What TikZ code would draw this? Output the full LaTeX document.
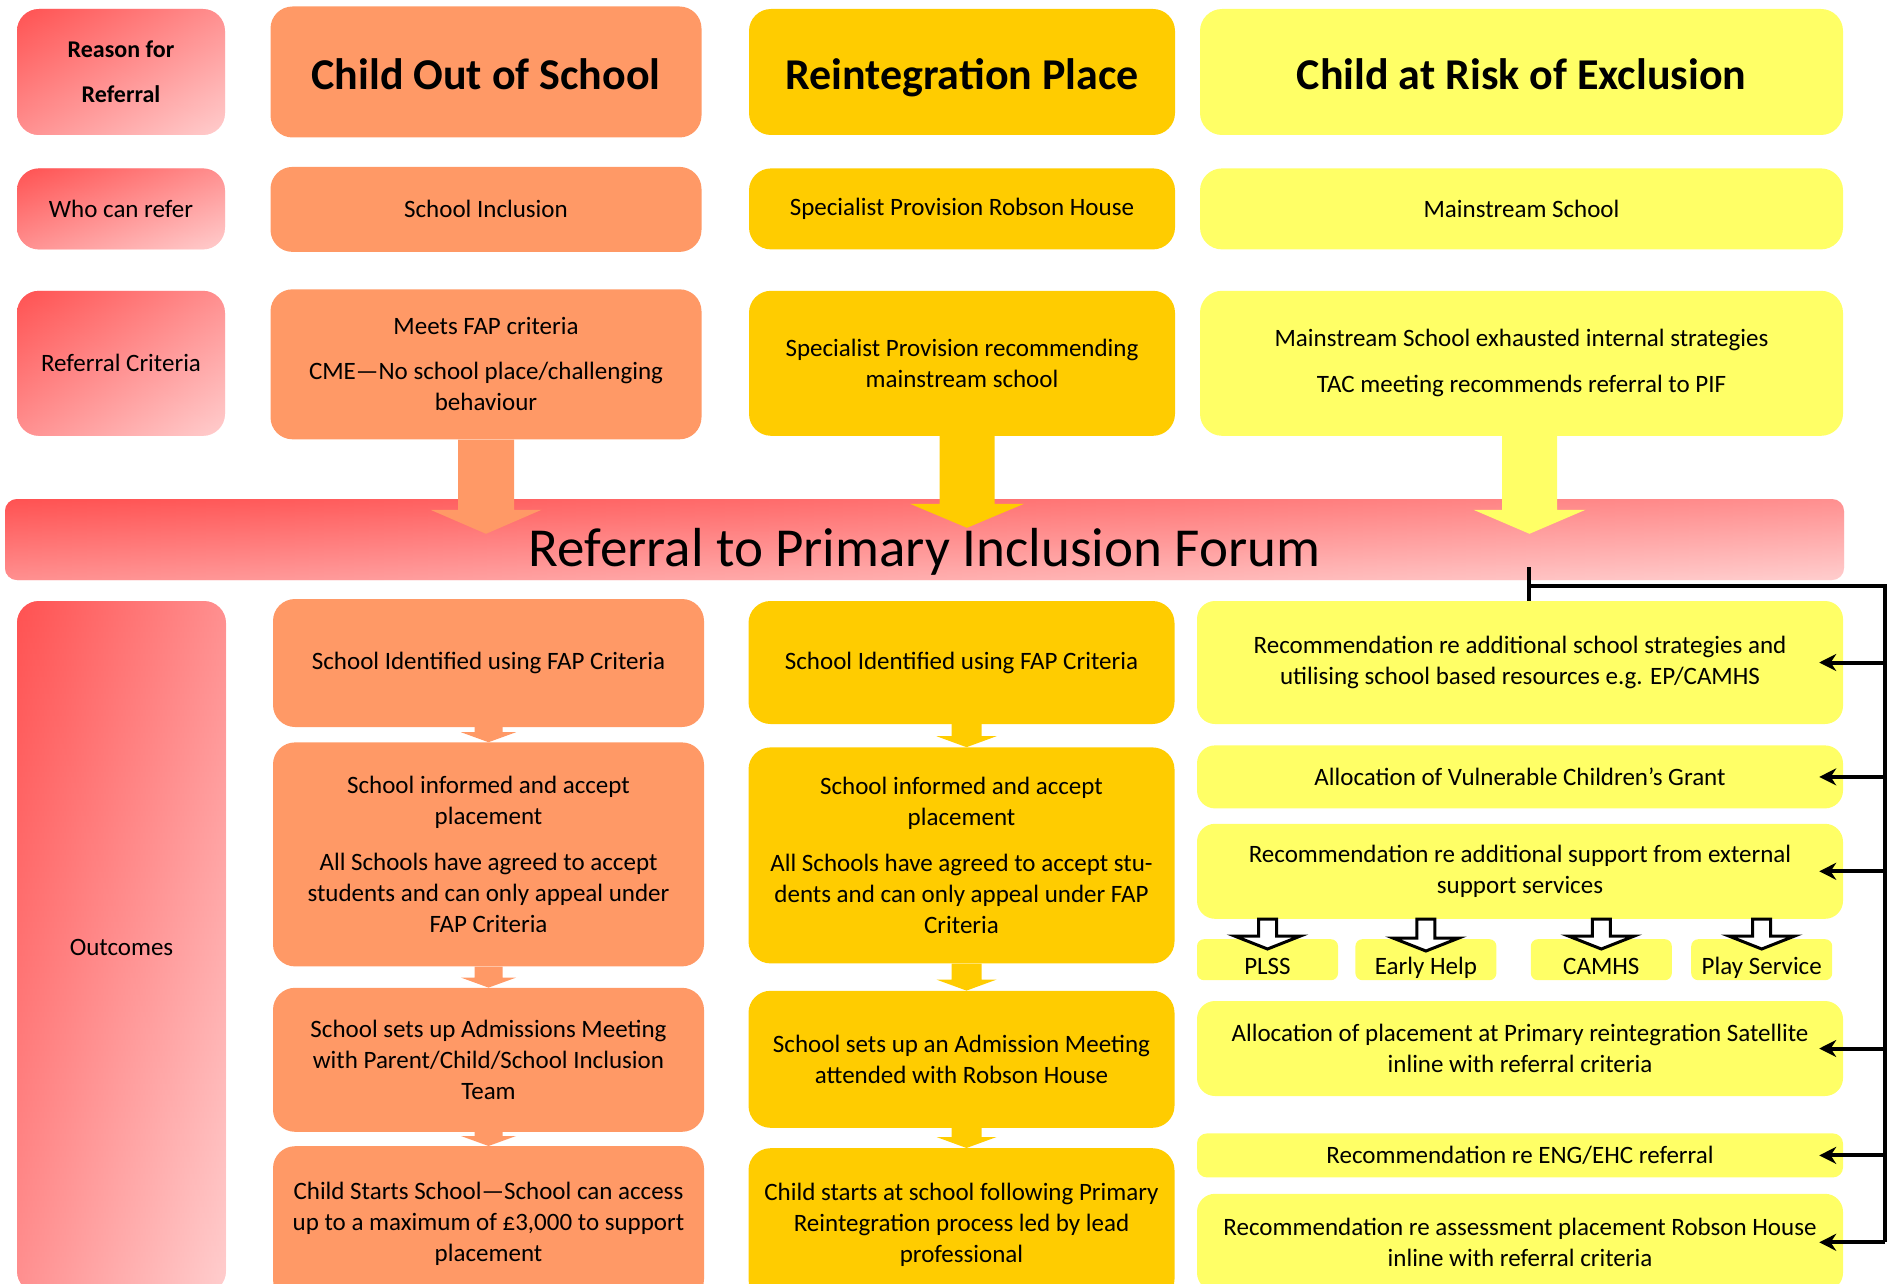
\documentclass[tikz,border=0pt]{standalone}
\usepackage{fontspec}
\setmainfont{Carlito}
\usepackage{xcolor}
\usepackage{tikz}
\definecolor{cosorange}{RGB}{255,153,102}
\definecolor{ripgold}{RGB}{255,204,0}
\definecolor{riskyellow}{RGB}{255,255,102}
\definecolor{pinkdark}{RGB}{255,82,82}
\definecolor{pinklight}{RGB}{255,206,206}
\usetikzlibrary{arrows.meta, positioning, calc}

\newcommand{\bodysize}{\fontsize{25}{31}\selectfont}
\newcommand{\headsize}{\fontsize{44}{52}\selectfont\bfseries}
\newcommand{\reasonsize}{\fontsize{24}{45}\selectfont\bfseries}
\newcommand{\bannersize}{\fontsize{55}{64}\selectfont}

% block arrow: #1 style, #2 top of stem, #3 target, #4 stem half width,
% #5 head half width, #6 head length, #7 how far the tip runs past #3
\newcommand{\fatarrow}[7]{%
  \path[#1] let \p1=(#2), \p2=(#3) in
    (\x1-#4pt,\y1) -- (\x1+#4pt,\y1) -- (\x1+#4pt,\y2-#7pt+#6pt)
    -- (\x1+#5pt,\y2-#7pt+#6pt) -- (\x1,\y2-#7pt)
    -- (\x1-#5pt,\y2-#7pt+#6pt) -- (\x1-#4pt,\y2-#7pt+#6pt) -- cycle;}

\begin{document}
\begin{tikzpicture}[
    x=1pt, y=-1pt,
    node distance=20pt,
    box/.style={rectangle, rounded corners=22pt, inner sep=0pt, align=center, font=\bodysize},
    pinkfill/.style={path picture={
        \shade[left color=pinkdark, right color=pinklight]
            (path picture bounding box.south west) rectangle (path picture bounding box.north east);
        \shade[top color=pinkdark, bottom color=pinklight, opacity=0.5]
            (path picture bounding box.south west) rectangle (path picture bounding box.north east);}},
    sidebox/.style={box, minimum width=208pt, pinkfill},
    headtext/.style={font=\headsize, text height=36pt, text depth=0pt},
    orangebox/.style={box, fill=cosorange, minimum width=431pt},
    goldbox/.style={box, fill=ripgold, minimum width=426pt},
    yellowbox/.style={box, fill=riskyellow, minimum width=643pt},
    extbox/.style={box, fill=riskyellow, minimum width=646pt, rounded corners=18pt},
    svcbox/.style={box, fill=riskyellow, minimum width=141pt, minimum height=41pt, rounded corners=7pt,
                   text height=29pt, text depth=0pt},
    hollow/.style={draw=black, fill=white, line width=3pt, line join=miter},
    link/.style={line width=4pt, black},
    feed/.style={link, -{Stealth[length=17pt, width=17pt]}}
]
    \useasboundingbox (0,0) rectangle (1889,1284);

    % row labels
    \node[sidebox, minimum height=126pt, font=\reasonsize] (reason) at (121,72) {Reason for\\Referral};
    \node[sidebox, minimum height=81pt, below=33pt of reason] (whorefer) {Who can refer};
    \node[sidebox, minimum height=145pt, below=41pt of whorefer] (refcrit) {Referral Criteria};

    % child out of school
    \node[orangebox, minimum height=131pt, headtext] (cos) at (486,72) {Child Out of School};
    \node[orangebox, minimum height=85pt, below=29pt of cos] (cosrefer) {School Inclusion};
    \node[orangebox, minimum height=150pt, below=37pt of cosrefer] (coscrit) {Meets FAP criteria\\[14pt]CME—No school place/challenging\\behaviour};

    % reintegration place
    \node[goldbox, minimum height=126pt, headtext] (rip) at (962,72) {Reintegration Place};
    \node[goldbox, minimum height=81pt, below=33pt of rip] (riprefer) {Specialist Provision Robson House};
    \node[goldbox, minimum height=145pt, below=41pt of riprefer] (ripcrit) {Specialist Provision recommending\\mainstream school};

    % child at risk of exclusion
    \node[yellowbox, minimum height=126pt, headtext] (risk) at (1521.5,72) {Child at Risk of Exclusion};
    \node[yellowbox, minimum height=81pt, below=33pt of risk] (riskrefer) {Mainstream School};
    \node[yellowbox, minimum height=145pt, below=41pt of riskrefer] (riskcrit) {Mainstream School exhausted internal strategies\\[15pt]TAC meeting recommends referral to PIF};

    % forum banner
    \node[sidebox, minimum width=1839pt, minimum height=81pt, rounded corners=12pt, font=\bannersize,
          text height=53pt, text depth=0pt] (pif) at (924.5,539.5) {Referral to Primary Inclusion Forum};

    \fatarrow{fill=cosorange}{coscrit.south}{pif.north}{28}{55.5}{24}{35}
    \fatarrow{fill=ripgold}{[xshift=5pt]ripcrit.south}{pif.north}{27.5}{57}{24}{29}
    \fatarrow{fill=riskyellow}{[xshift=8pt]riskcrit.south}{pif.north}{27.5}{56}{24}{35}

    \node[sidebox, minimum width=209pt, minimum height=692pt] (outcomes) at (121.5,947) {Outcomes};

    % outcomes, child out of school
    \node[orangebox, minimum height=128pt] (cos1) at (488.5,663) {School Identified using FAP Criteria};
    \node[orangebox, minimum height=224pt, below=15pt of cos1] (cos2) {School informed and accept\\placement\\[15pt]All Schools have agreed to accept\\students and can only appeal under\\FAP Criteria};
    \node[orangebox, minimum height=144pt, below=21pt of cos2] (cos3) {School sets up Admissions Meeting\\with Parent/Child/School Inclusion\\Team};
    \node[orangebox, minimum height=155pt, below=14pt of cos3] (cos4) {Child Starts School—School can access\\up to a maximum of £3,000 to support\\placement};

    \fatarrow{fill=cosorange}{cos1.south}{cos2.north}{14}{27.5}{10}{0}
    \fatarrow{fill=cosorange}{cos2.south}{cos3.north}{14}{27.5}{10}{0}
    \fatarrow{fill=cosorange}{cos3.south}{cos4.north}{14}{27.5}{10}{0}

    % outcomes, reintegration place
    \node[goldbox, minimum height=123pt] (rip1) at (961.5,662.5) {School Identified using FAP Criteria};
    \node[goldbox, minimum height=216pt, below=23pt of rip1] (rip2) {School informed and accept\\placement\\[15pt]All Schools have agreed to accept stu-\\dents and can only appeal under FAP\\Criteria};
    \node[goldbox, minimum height=137pt, below=27pt of rip2] (rip3) {School sets up an Admission Meeting\\attended with Robson House};
    \node[goldbox, minimum height=153pt, below=20pt of rip3] (rip4) {Child starts at school following Primary\\Reintegration process led by lead\\professional};

    \fatarrow{fill=ripgold}{[xshift=5pt]rip1.south}{rip2.north}{15}{30}{11}{0}
    \fatarrow{fill=ripgold}{[xshift=5pt]rip2.south}{rip3.north}{15}{30}{11}{0}
    \fatarrow{fill=ripgold}{[xshift=5pt]rip3.south}{rip4.north}{15}{30}{11}{0}

    % outcomes, child at risk of exclusion
    \node[extbox, minimum height=123pt] (ext1) at (1520,662.5) {Recommendation re additional school strategies and\\utilising school based resources e.g. EP/CAMHS};
    \node[extbox, minimum height=63pt, below=21pt of ext1] (ext2) {Allocation of Vulnerable Children’s Grant};
    \node[extbox, minimum height=95pt, below=15pt of ext2] (ext3) {Recommendation re additional support from external\\support services};
    \node[svcbox, below right=20pt and 0pt of ext3.south west] (plss) {PLSS};
    \node[svcbox, right=17pt of plss] (earlyhelp) {Early Help};
    \node[svcbox, right=34pt of earlyhelp] (camhs) {CAMHS};
    \node[svcbox, right=19pt of camhs] (playsvc) {Play Service};
    \node[extbox, minimum height=95pt] (ext4) at (1520,1048.5) {Allocation of placement at Primary reintegration Satellite\\inline with referral criteria};
    \node[extbox, minimum height=44pt, rounded corners=10pt, below=37pt of ext4] (ext5) {Recommendation re ENG/EHC referral};
    \node[extbox, minimum height=97pt, below=16pt of ext5] (ext6) {Recommendation re assessment placement Robson House\\inline with referral criteria};

    \fatarrow{hollow}{plss.north |- ext3.south}{plss.north}{9}{33}{13}{10}
    \fatarrow{hollow}{earlyhelp.north |- ext3.south}{earlyhelp.north}{9}{33}{13}{12}
    \fatarrow{hollow}{camhs.north |- ext3.south}{camhs.north}{9}{33}{13}{10}
    \fatarrow{hollow}{playsvc.north |- ext3.south}{playsvc.north}{9}{33}{13}{10}

    % forum decisions fed to the right-hand column
    \coordinate (pifout) at (1529,567);
    \coordinate (rail) at (1885,586);
    \draw[link] (pifout) -- (pifout |- ext1.north);
    \draw[link, line join=miter] (pifout |- rail) -- (rail) -- (rail |- ext6.east);
    \foreach \ext in {ext1,ext2,ext3,ext4,ext5,ext6}
        \draw[feed] (rail |- \ext.east) -- ([xshift=-24pt]\ext.east);
\end{tikzpicture}
\end{document}
